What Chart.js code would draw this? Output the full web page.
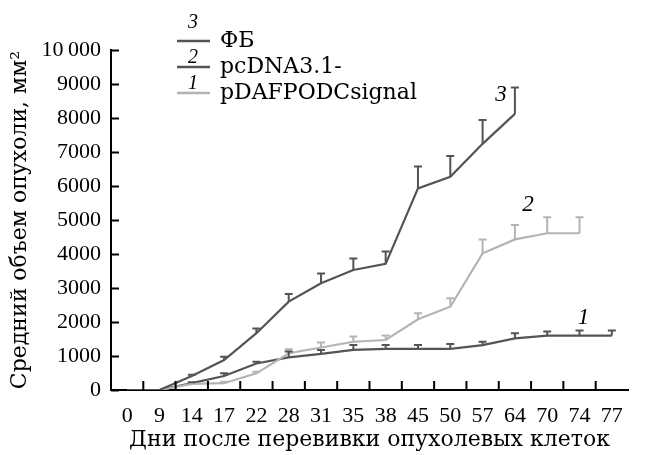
<!DOCTYPE html>
<html>
<head>
<meta charset="utf-8">
<script src="https://cdn.jsdelivr.net/npm/chart.js@4"></script>
<style>
  html, body { margin: 0; padding: 0; background: #fff; }
  #wrap { position: relative; width: 646px; height: 455px; }
</style>
</head>
<body>
<div id="wrap"><canvas id="tumorChart" width="646" height="455"></canvas></div>
<script>
/*====================================
        DATA
====================================*/

const days = ["0", "9", "14", "17", "22", "28", "31", "35", "38", "45", "50", "57", "64", "70", "74", "77"];

// curve 3 - ФБ
const fbMean = [0, 0, 410, 880, 1670, 2600, 3140, 3530, 3710, 5930, 6270, 7240, 8120, null, null, null];
const fbErr  = [0, 0, 40, 100, 140, 220, 290, 340, 360, 640, 610, 700, 780, null, null, null];

// curve 2
const vecMean = [0, 0, 180, 200, 490, 1080, 1250, 1420, 1470, 2080, 2450, 4020, 4430, 4610, 4610, null];
const vecErr  = [0, 0, 30, 40, 50, 120, 150, 150, 130, 180, 250, 410, 420, 470, 470, null];

// curve 1
const odcMean = [0, 0, 200, 410, 780, 960, 1060, 1180, 1210, 1210, 1210, 1320, 1520, 1600, 1600, 1600];
const odcErr  = [0, 0, 30, 80, 50, 170, 120, 140, 110, 110, 140, 100, 150, 120, 150, 150];

const yTicks = [0, 1000, 2000, 3000, 4000, 5000, 6000, 7000, 8000, 9000, 10000];

const legendNums  = ["3", "2", "1"];
const legendNames = ["ФБ", "pcDNA3.1-", "pDAFPODCsignal"];

/*====================================
        STYLE
====================================*/

const DARK = "#545454";
const LIGHT = "#b4b4b4";
const SERIF = "'Liberation Serif', 'DejaVu Serif', serif";
const WIDE = "'DejaVu Serif', serif";

/*====================================
        PLUGINS
====================================*/

// upper error bars with caps
const errorBars = {
  id: "errorBars",
  afterDatasetsDraw(chart) {
    const ctx = chart.ctx;
    const x = chart.scales.x, y = chart.scales.y;
    chart.data.datasets.forEach(ds => {
      ctx.save();
      ctx.strokeStyle = ds.borderColor;
      ctx.lineWidth = 2;
      ds.data.forEach((v, i) => {
        const e = ds.err[i];
        if (v === null || !e) return;
        const px = x.getPixelForValue(i);
        const y0 = y.getPixelForValue(v);
        const y1 = y.getPixelForValue(v + e);
        ctx.beginPath();
        ctx.moveTo(px, y0);
        ctx.lineTo(px, y1);
        ctx.moveTo(px - 4, y1);
        ctx.lineTo(px + 4, y1);
        ctx.stroke();
      });
      ctx.restore();
    });
  }
};

// tick marks pointing into the plot
const innerTicks = {
  id: "innerTicks",
  afterDraw(chart) {
    const ctx = chart.ctx;
    const area = chart.chartArea;
    const x = chart.scales.x, y = chart.scales.y;
    ctx.save();
    ctx.strokeStyle = "#000";
    ctx.lineWidth = 2;
    ctx.beginPath();
    yTicks.forEach(v => {
      const py = Math.round(y.getPixelForValue(v)) + 0.5;
      ctx.moveTo(area.left, py);
      ctx.lineTo(area.left + 8, py);
    });
    for (let i = 1; i < days.length; i++) {
      const px = (x.getPixelForValue(i - 1) + x.getPixelForValue(i)) / 2;
      ctx.moveTo(px, area.bottom);
      ctx.lineTo(px, area.bottom - 9);
    }
    ctx.stroke();
    ctx.restore();
  }
};

// italic curve numbers + legend
const curveLabels = {
  id: "curveLabels",
  afterDraw(chart) {
    const ctx = chart.ctx;
    const x = chart.scales.x, y = chart.scales.y;
    ctx.save();
    ctx.fillStyle = "#000";
    ctx.textAlign = "center";
    ctx.textBaseline = "middle";
    ctx.font = "italic 23px " + SERIF;
    chart.data.datasets.forEach(ds => {
      const a = ds.tag;
      const px = x.getPixelForValue(a.index) + a.dx;
      const py = y.getPixelForValue(ds.data[a.index]) + a.dy;
      ctx.fillText(ds.num, px, py);
    });

    // legend
    const colors = [DARK, DARK, LIGHT];
    const lineY = [41, 67, 93];
    const numDy = [-18, -9, -9];
    legendNums.forEach((n, i) => {
      ctx.strokeStyle = colors[i];
      ctx.lineWidth = 2.5;
      ctx.beginPath();
      ctx.moveTo(177, lineY[i]);
      ctx.lineTo(210, lineY[i]);
      ctx.stroke();
      ctx.fillStyle = "#000";
      ctx.textAlign = "center";
      ctx.textBaseline = "middle";
      ctx.font = "italic 20px " + SERIF;
      ctx.fillText(n, 193, lineY[i] + numDy[i]);
      ctx.textAlign = "left";
      ctx.textBaseline = "alphabetic";
      ctx.font = "22px " + WIDE;
      ctx.fillText(legendNames[i], 220, lineY[i] + 6);
    });
    ctx.restore();
  }
};

/*====================================
        CHART
====================================*/

const tumorChart = new Chart(document.getElementById("tumorChart"), {
  type: "line",
  data: {
    labels: days,
    datasets: [
      {
        label: legendNames[0], num: "3", data: fbMean, err: fbErr,
        tag: { index: 12, dx: -14, dy: -19 },
        borderColor: DARK, borderWidth: 2.2, pointRadius: 0, tension: 0
      },
      {
        label: legendNames[1], num: "2", data: vecMean, err: vecErr,
        tag: { index: 12, dx: 13, dy: -34 },
        borderColor: LIGHT, borderWidth: 2.2, pointRadius: 0, tension: 0
      },
      {
        label: legendNames[2], num: "1", data: odcMean, err: odcErr,
        tag: { index: 14, dx: 4, dy: -18 },
        borderColor: DARK, borderWidth: 2.2, pointRadius: 0, tension: 0
      }
    ]
  },
  options: {
    responsive: false,
    animation: false,
    layout: { padding: { top: 50, right: 18, left: 0, bottom: 0 } },
    plugins: {
      legend: { display: false },
      tooltip: { enabled: false }
    },
    scales: {
      x: {
        offset: true,
        grid: { display: false, drawTicks: false },
        border: { display: true, color: "#000", width: 2 },
        ticks: { color: "#000", padding: 13, maxRotation: 0, autoSkip: false, font: { family: SERIF, size: 22 } },
        title: { display: true, text: "Дни после перевивки опухолевых клеток", color: "#000",
                 padding: { top: 0, bottom: 2 }, font: { family: WIDE, size: 22 } },
        afterFit(scale) { scale.height = 65; }
      },
      y: {
        min: 0,
        max: 10000,
        afterBuildTicks(scale) { scale.ticks = yTicks.map(v => ({ value: v })); },
        grid: { display: false, drawTicks: false },
        border: { display: true, color: "#000", width: 2 },
        ticks: {
          color: "#000", padding: 10, font: { family: SERIF, size: 22 },
          callback: v => v === 10000 ? "10\u2009000" : String(v)
        },
        title: { display: true, text: "Средний объем опухоли, мм²", color: "#000",
                 padding: { top: 7, bottom: 0 }, font: { family: WIDE, size: 22 } },
        afterFit(scale) { scale.width = 111; }
      }
    }
  },
  plugins: [errorBars, innerTicks, curveLabels]
});
</script>
</body>
</html>
